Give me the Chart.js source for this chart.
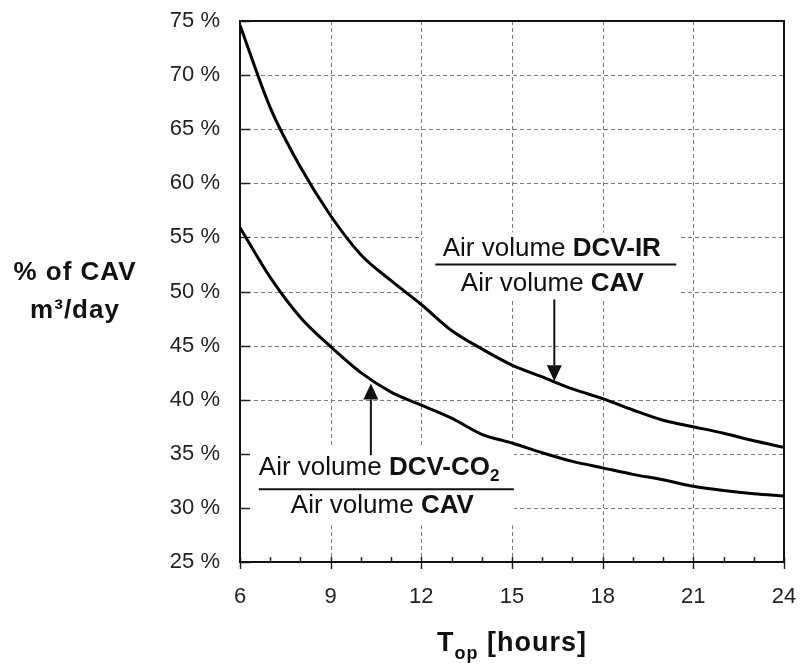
<!DOCTYPE html>
<html>
<head>
<meta charset="utf-8">
<script src="https://cdn.jsdelivr.net/npm/chart.js@4"></script>
<style>
  html, body { margin: 0; padding: 0; background: #fff; }
  #wrap { width: 801px; height: 665px; }
</style>
</head>
<body>
<div id="wrap"><canvas id="c" width="801" height="665"></canvas></div>
<script>
// ---- data ----
const hours = [6, 7, 8, 9, 10, 11, 12, 13, 14, 15, 16, 17, 18, 19, 20, 21, 22, 23, 24];
const dcvIR = [74.6, 67.0, 61.5, 57.0, 53.4, 51.0, 48.8, 46.4, 44.7, 43.2, 42.1, 41.0, 40.1, 39.05, 38.1, 37.5, 36.9, 36.2, 35.6];
const dcvCO2 = [55.9, 51.3, 47.6, 44.9, 42.5, 40.7, 39.5, 38.3, 36.8, 36.0, 35.1, 34.3, 33.7, 33.1, 32.6, 32.0, 31.6, 31.3, 31.1];
const xTickValues = [6, 9, 12, 15, 18, 21, 24];
const yTickValues = [25, 30, 35, 40, 45, 50, 55, 60, 65, 70, 75];

const FONT = '"Liberation Sans", Arial, Helvetica, sans-serif';
Chart.defaults.font.family = FONT;
Chart.defaults.color = '#222';

function toPoints(xs, ys) { return xs.map((h, i) => ({ x: h, y: ys[i] })); }

function richText(ctx, parts, x, y, align) {
  let total = 0;
  parts.forEach(p => { ctx.font = (p.bold ? 'bold ' : '') + p.size + 'px ' + FONT; p.w = ctx.measureText(p.t).width; total += p.w; });
  let cx = align === 'left' ? x : x - total / 2;
  ctx.textAlign = 'left';
  ctx.textBaseline = 'alphabetic';
  parts.forEach(p => {
    ctx.font = (p.bold ? 'bold ' : '') + p.size + 'px ' + FONT;
    ctx.fillText(p.t, cx, y + (p.dy || 0));
    cx += p.w;
  });
}

function arrow(ctx, x, y0, y1) {
  const dir = y1 > y0 ? 1 : -1;
  const head = 16, hw = 7.5;
  ctx.beginPath();
  ctx.lineWidth = 2;
  ctx.moveTo(x, y0);
  ctx.lineTo(x, y1 - dir * head);
  ctx.stroke();
  ctx.beginPath();
  ctx.moveTo(x, y1);
  ctx.lineTo(x - hw, y1 - dir * head);
  ctx.lineTo(x + hw, y1 - dir * head);
  ctx.closePath();
  ctx.fill();
}

const decor = {
  id: 'decor',
  beforeDatasetsDraw(chart) {
    const { ctx, chartArea: a, scales: { x, y } } = chart;
    ctx.save();
    ctx.strokeStyle = '#7a7a7a';
    ctx.lineWidth = 1;
    ctx.setLineDash([4, 3]);
    xTickValues.slice(1, -1).forEach(v => {
      const px = Math.round(x.getPixelForValue(v)) + 0.5;
      ctx.beginPath(); ctx.moveTo(px, a.top); ctx.lineTo(px, a.bottom); ctx.stroke();
    });
    yTickValues.slice(1, -1).forEach(v => {
      const py = Math.round(y.getPixelForValue(v)) + 0.5;
      ctx.beginPath(); ctx.moveTo(a.left, py); ctx.lineTo(a.right, py); ctx.stroke();
    });
    ctx.setLineDash([]);
    ctx.fillStyle = '#fff';
    const ax1 = x.getPixelForValue(16.4), ly1 = y.getPixelForValue(52.5);
    ctx.fillRect(ax1 - 131, ly1 - 32, 256, 68);
    const ax2 = x.getPixelForValue(10.33), ly2 = y.getPixelForValue(31.72);
    ctx.fillRect(a.left + 1, ly2 - 44, ax2 + 143 - a.left - 1, 80);
    ctx.strokeStyle = '#222';
    ctx.lineWidth = 1.5;
    yTickValues.forEach(v => {
      const py = Math.round(y.getPixelForValue(v)) + 0.5;
      ctx.beginPath(); ctx.moveTo(a.left, py); ctx.lineTo(a.left + 10, py); ctx.stroke();
    });
    for (let h = hours[0]; h <= hours[hours.length - 1]; h++) {
      const px = Math.round(x.getPixelForValue(h)) + 0.5;
      const major = xTickValues.includes(h);
      ctx.beginPath();
      ctx.moveTo(px, a.bottom - 5);
      ctx.lineTo(px, a.bottom + (major ? 7 : 0));
      ctx.stroke();
    }
    ctx.strokeStyle = '#111';
    ctx.lineWidth = 2;
    ctx.strokeRect(a.left, a.top, a.right - a.left, a.bottom - a.top);
    ctx.restore();
  },
  afterDatasetsDraw(chart) {
    const { ctx, scales: { x, y } } = chart;
    ctx.save();
    ctx.fillStyle = '#111';
    ctx.strokeStyle = '#111';
    const ax1 = x.getPixelForValue(16.4), ly1 = y.getPixelForValue(52.5);
    richText(ctx, [{ t: 'Air volume ', size: 26 }, { t: 'DCV-IR', bold: true, size: 26 }], ax1 - 2.5, ly1 - 8);
    ctx.lineWidth = 2;
    ctx.beginPath(); ctx.moveTo(ax1 - 119, ly1); ctx.lineTo(ax1 + 122, ly1); ctx.stroke();
    richText(ctx, [{ t: 'Air volume ', size: 26 }, { t: 'CAV', bold: true, size: 26 }], ax1 - 2, ly1 + 27);
    arrow(ctx, ax1, ly1 + 35, y.getPixelForValue(41.7));
    const ax2 = x.getPixelForValue(10.33), ly2 = y.getPixelForValue(31.72);
    richText(ctx, [{ t: 'Air volume ', size: 26 }, { t: 'DCV-CO', bold: true, size: 26 }, { t: '2', bold: true, size: 17, dy: 6 }], ax2 - 112, ly2 - 14, 'left');
    ctx.lineWidth = 2;
    ctx.beginPath(); ctx.moveTo(ax2 - 112, ly2); ctx.lineTo(ax2 + 143, ly2); ctx.stroke();
    richText(ctx, [{ t: 'Air volume ', size: 26 }, { t: 'CAV', bold: true, size: 26 }], ax2 + 11.5, ly2 + 24);
    arrow(ctx, ax2, ly2 - 34, y.getPixelForValue(41.5));
    ctx.restore();
  },
  afterDraw(chart) {
    const { ctx, chartArea: a } = chart;
    ctx.save();
    ctx.fillStyle = '#111';
    try { ctx.letterSpacing = '1px'; } catch (e) {}
    ctx.font = 'bold 26px ' + FONT;
    ctx.textAlign = 'center';
    ctx.textBaseline = 'alphabetic';
    ctx.fillText('% of CAV', 75, 280);
    ctx.fillText('m\u00B3/day', 75, 318);
    const cx = (a.left + a.right) / 2;
    richText(ctx, [{ t: 'T', bold: true, size: 27 }, { t: 'op', bold: true, size: 18, dy: 8 }, { t: ' [hours]', bold: true, size: 27 }], cx, 651);
    ctx.restore();
  }
};

new Chart(document.getElementById('c'), {
  type: 'line',
  data: {
    datasets: [
      { label: 'DCV-IR / CAV', data: toPoints(hours, dcvIR), borderColor: '#000', borderWidth: 3, pointRadius: 0, fill: false, tension: 0.4, cubicInterpolationMode: 'monotone' },
      { label: 'DCV-CO2 / CAV', data: toPoints(hours, dcvCO2), borderColor: '#000', borderWidth: 3, pointRadius: 0, fill: false, tension: 0.4, cubicInterpolationMode: 'monotone' }
    ]
  },
  options: {
    responsive: false,
    animation: false,
    devicePixelRatio: 1,
    layout: { padding: { top: 21, right: 17, left: 0, bottom: 0 } },
    plugins: { legend: { display: false }, tooltip: { enabled: false } },
    scales: {
      x: {
        type: 'linear', min: 6, max: 24,
        afterBuildTicks: s => { s.ticks = xTickValues.map(v => ({ value: v })); },
        afterFit: s => { s.height = 103; s.paddingLeft = 0; s.paddingRight = 0; },
        grid: { display: false, drawTicks: false },
        border: { display: false },
        ticks: { font: { size: 22 }, color: '#222', padding: 22, maxRotation: 0, autoSkip: false }
      },
      y: {
        type: 'linear', min: 25, max: 75,
        afterBuildTicks: s => { s.ticks = yTickValues.map(v => ({ value: v })); },
        afterFit: s => { s.width = 240; s.paddingTop = 0; s.paddingBottom = 0; },
        grid: { display: false, drawTicks: false },
        border: { display: false },
        ticks: { font: { size: 22 }, color: '#222', padding: 20, callback: v => v + ' %' }
      }
    }
  },
  plugins: [decor]
});
</script>
</body>
</html>
